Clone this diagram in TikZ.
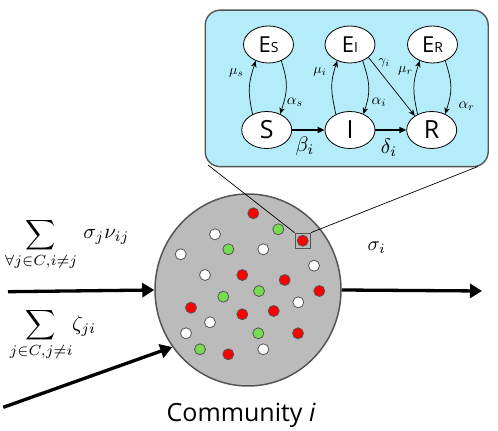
\documentclass[tikz,border=0pt]{standalone}
\usepackage{fontspec}
\newfontfamily\myfont{Open Sans}
\usetikzlibrary{arrows.meta,shapes.geometric}
\definecolor{insetcol}{RGB}{180,236,250}
\definecolor{circfill}{RGB}{187,187,187}
\definecolor{edgegray}{RGB}{85,85,85}
\definecolor{dotred}{RGB}{255,0,0}
\definecolor{dotgreen}{RGB}{120,220,80}
\tikzset{
  dot/.style={circle,draw=edgegray,line width=0.8pt,minimum size=11pt,inner sep=0pt},
  rdot/.style={dot,fill=dotred},
  gdot/.style={dot,fill=dotgreen},
  wdot/.style={dot,fill=white},
  state/.style={ellipse,draw=black,fill=white,line width=0.8pt,minimum width=50pt,minimum height=37pt,inner sep=0pt,font=\myfont\fontsize{25}{25}\selectfont},
  bigarrow/.style={line width=3.3pt,-{Triangle[length=12pt,width=14pt]}},
  thickarr/.style={line width=1.6pt,-{Triangle[length=7pt,width=6pt]}},
  thinarr/.style={line width=0.7pt,-{Stealth[length=6.5pt,width=5.5pt]}},
  lab/.style={inner sep=0pt}
}
\newcommand{\Esub}[1]{\fontsize{22}{22}\selectfont E\fontsize{14}{14}\selectfont #1}
\begin{document}
\begin{tikzpicture}[x=1pt,y=1pt]
\useasboundingbox (0,0) rectangle (498,431);
% community
\node[ellipse,draw=edgegray,fill=circfill,line width=1.5pt,minimum width=186pt,minimum height=192pt,inner sep=0pt] (comm) at (248,141) {};
\foreach \p/\s in {{253.3,217.7}/rdot,{278.3,201.7}/gdot,{302.7,190.3}/rdot,{215,196.7}/wdot,{228.3,181.7}/gdot,{263.3,181.7}/wdot,{180.7,176.7}/wdot,{314,165.3}/wdot,{205,156}/wdot,{242.3,156}/rdot,{284.7,151}/rdot,{259,140}/gdot,{319.3,140}/rdot,{223.3,134.3}/gdot,{298.3,128.7}/wdot,{191,123.3}/rdot,{242.3,116.7}/rdot,{273.7,120}/rdot,{210,108.7}/wdot,{186,97.7}/wdot,{258.3,97.7}/gdot,{298,97.7}/rdot,{200,81.7}/gdot,{228.3,76.7}/rdot,{263.3,81.7}/wdot}
  \node[\s] at (\p) {};
\node[draw=edgegray,line width=0.8pt,minimum size=15.5pt,inner sep=0pt] (zbox) at (302.7,190.2) {};
\node[font=\myfont\fontsize{25}{25}\selectfont,anchor=base] (ctext) at (241,9.3) {Community \itshape i};
% inset
\node[draw=edgegray,fill=insetcol,line width=1.4pt,rounded corners=15pt,minimum width=283pt,minimum height=156.5pt,inner sep=0pt] (inset) at (346.7,342.6) {};
\coordinate (il) at (208,266);
\coordinate (ir) at (478,264.5);
\draw[line width=0.7pt] (zbox.north west) -- (il);
\draw[line width=0.7pt] (zbox.north east) -- (ir);
% states
\node[state] (Es) at (268.5,386.5) {\Esub{S}};
\node[state] (Ei) at (350,386.5) {\Esub{I}};
\node[state] (Er) at (432.5,386.5) {\Esub{R}};
\node[state] (S) at (266.7,301) {S};
\node[state] (I) at (350,301) {I};
\node[state] (R) at (431.7,301) {R};
\draw[thickarr] (S) -- (I);
\draw[thickarr] (I) -- (R);
\node[lab,scale=2.1] (beta) at (305,285) {$\beta_i$};
\node[lab,scale=2.1] (delta) at (389,283.5) {$\delta_i$};
\foreach \a/\b/\m/\al/\mx/\my/\ax/\ay in {S/Es/s/s/236.3/358/295/328.5,I/Ei/i/i/320/359/379/328.5,R/Er/r/r/405.5/360/466.7/325}{
  \draw[thinarr] (\a.132) to[out=102,in=252,looseness=1.15] (\b.232);
  \draw[thinarr] (\b.308) to[out=-72,in=72,looseness=1.15] (\a.50);
  \node[lab,scale=1.4] at (\mx,\my) {$\mu_\m$};
  \node[lab,scale=1.5] at (\ax,\ay) {$\alpha_\al$};
}
\draw[thinarr] (Ei.-35) -- (R.140);
\node[lab,scale=1.35] (gam) at (384,368) {$\gamma_i$};
% flows
\coordinate (a1) at (8,139.3);
\coordinate (a2) at (3.3,23.7);
\coordinate (a3) at (482,140);
\draw[bigarrow] (a1) -- (comm.west);
\draw[bigarrow] (a2) -- (comm.217);
\draw[bigarrow] (comm.east) -- (a3);
\node[lab,scale=2] (sig) at (376.7,183) {$\sigma_i$};
\node[lab,scale=2.1,anchor=north] (sum1) at (41,213.5) {$\displaystyle\sum_{\forall j\in C,i\neq j}$};
\node[lab,scale=2.1,anchor=west] (op1) at (83,194) {$\sigma_j\nu_{ij}$};
\node[lab,scale=2.1,anchor=north] (sum2) at (41,123) {$\displaystyle\sum_{j\in C,j\neq i}$};
\node[lab,scale=2.1,anchor=west] (op2) at (71.7,105) {$\zeta_{ji}$};
\end{tikzpicture}
\end{document}
